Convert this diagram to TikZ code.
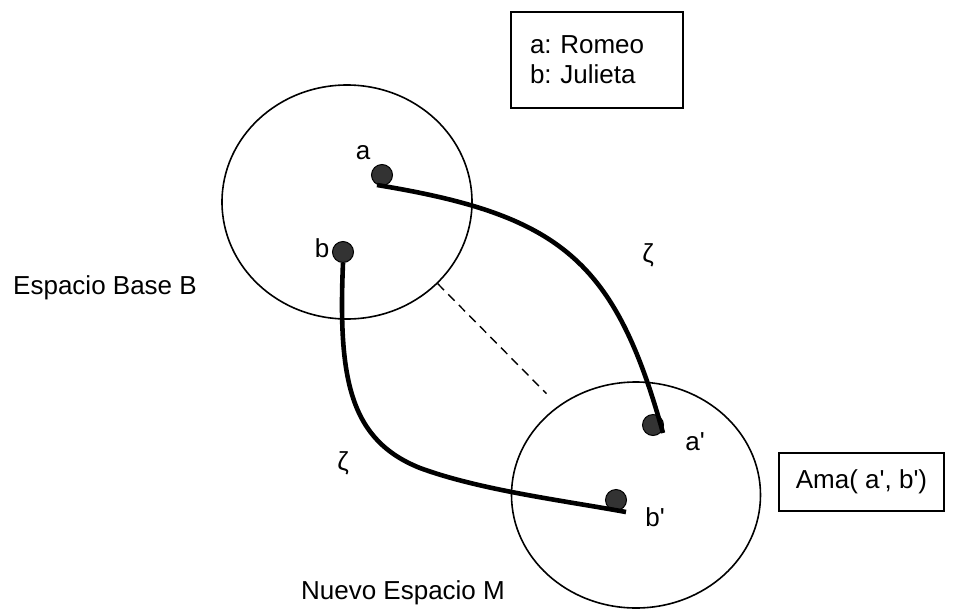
\documentclass[tikz,border=0pt]{standalone}
\usepackage{fontspec}
\setmainfont{Liberation Sans}[Ligatures=TeXOff]
\usepackage{tikz}
\usetikzlibrary{shapes.geometric}
\definecolor{dotgray}{HTML}{333333}
\frenchspacing

\begin{document}
\begin{tikzpicture}[x=1pt,y=-1pt]
        \tikzstyle{space}=[ellipse, draw, line width=1.6pt, inner sep=0pt]
        \tikzstyle{point}=[circle, draw, fill=dotgray, line width=1pt, minimum size=21pt, inner sep=0pt]
        \tikzstyle{map}=[line width=4.6pt]
        \tikzstyle{word}=[font=\fontsize{26}{30}\selectfont, inner sep=0pt]
        \useasboundingbox (0,0) rectangle (961,608);
        \node[space, minimum width=250pt, minimum height=234pt] (spaceB) at (347,202) {};
        \node[space, minimum width=249pt, minimum height=226pt] (spaceM) at (636,495) {};
        \node[point] (pa) at (382,175) {};
        \node[point] (pb) at (343,252) {};
        \node[point] (paa) at (653,425) {};
        \node[point] (pbb) at (616,500) {};
        \draw[line width=1.4pt, dash pattern=on 9pt off 6pt, shorten >=17pt] (spaceB.-42) -- (spaceM.131);
        \draw[map] ([shift={(-5,10)}]pa.center) .. controls (560,215) and (615,260) .. ([shift={(10,8)}]paa.center);
        \draw[map] (pb.south) .. controls (338,380) and (350,440) .. (420,468) .. controls (480,490) and (560,500) .. ([shift={(10,12)}]pbb.center);
        \node[word] (la) at (363,153) {a};
        \node[word] (lb) at (322,248) {b};
        \node[word] (laa) at (695,442) {a'};
        \node[word] (lbb) at (655,517) {b'};
        \node[word] (zetaup) at (648,255) {ζ};
        \node[word] (zetadown) at (343,463) {ζ};
        \node[word] (nameB) at (105,288) {Espacio Base B};
        \node[word] (nameM) at (403,593) {Nuevo Espacio M};
        \node[word, draw, line width=1.3pt, text width=134pt, align=left, inner xsep=19pt, minimum height=96pt] (legend) at (597,60) {a: Romeo\\b: Julieta};
        \node[word, draw, line width=1.3pt, minimum width=165pt, minimum height=58pt] (claim) at (861.5,482) {Ama( a', b')};
    \end{tikzpicture}
\end{document}
